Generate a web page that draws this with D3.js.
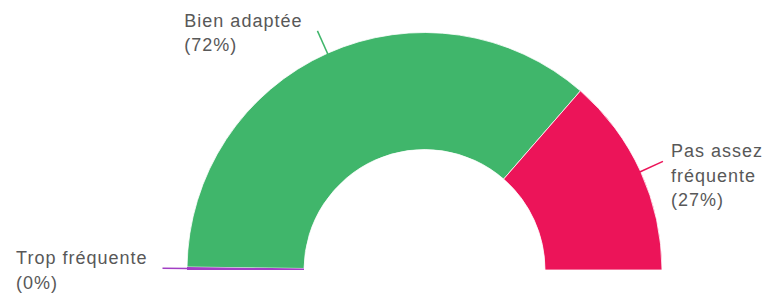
<!DOCTYPE html>
<html>
<head>
<meta charset="utf-8">
<script src="https://cdn.jsdelivr.net/npm/d3@7"></script>
<style>
  body { margin: 0; background: #fff; }
  svg text { font-family: "Liberation Sans", Arial, sans-serif; letter-spacing: 1px; }
</style>
</head>
<body>
<div class="vis-gauge"></div>
<script>
// data
const categories = ["Trop fréquente", "Bien adaptée", "Pas assez fréquente"];
const values = [0.4, 72.4, 27.2];
const pctLabels = ["(0%)", "(72%)", "(27%)"];
const colors = ["#a23fc4", "#40b66b", "#ec1459"];

const width = 774, height = 297;
const cx = 424.5, cy = 270;
const outerR = 237.5, innerR = 120.5;
const leaderR = 262;
const fontSize = 18;

const svg = d3.select(".vis-gauge")
  .append("svg")
  .attr("width", width)
  .attr("height", height);

const g = svg.append("g").attr("transform", "translate(" + cx + "," + cy + ")");

const pie = d3.pie()
  .sort(null)
  .value(d => d.value)
  .startAngle(-Math.PI / 2)
  .endAngle(Math.PI / 2);

const data = categories.map((c, i) => ({ name: c, value: values[i], pct: pctLabels[i], color: colors[i] }));
const arcs = pie(data);

const arc = d3.arc().innerRadius(innerR).outerRadius(outerR);

// draw big slices first, the tiny one on top
const order = arcs.slice().sort((a, b) => b.value - a.value);
g.selectAll("path.slice")
  .data(order)
  .enter()
  .append("path")
  .attr("class", "slice")
  .attr("d", arc)
  .attr("fill", d => d.data.color)
  .attr("stroke", d => d.value < 1 ? "none" : "#fff")
  .attr("stroke-width", 0.8);

const pt = (a, r) => [r * Math.sin(a), -r * Math.cos(a)];

const probe = svg.append("text").attr("font-size", fontSize);
const measure = s => { probe.text(s); return probe.node().getComputedTextLength(); };

arcs.forEach(d => {
  const mid = (d.startAngle + d.endAngle) / 2;
  const p0 = pt(mid, outerR - 1);
  const p1 = pt(mid, leaderR);
  g.append("line")
    .attr("x1", p0[0]).attr("y1", p0[1])
    .attr("x2", p1[0]).attr("y2", p1[1])
    .attr("stroke", d.data.color)
    .attr("stroke-width", 1.5);

  const right = p1[0] > 0;
  // wrap the name into the room left on that side
  const room = right ? (width - cx - p1[0] - 10) : (cx + p1[0] - 20);
  const words = d.data.name.split(" ");
  let lines = [], cur = "";
  words.forEach(w => {
    const test = cur ? cur + " " + w : w;
    if (measure(test) > room && cur) {
      lines.push(cur);
      cur = w;
    } else {
      cur = test;
    }
  });
  lines.push(cur);
  lines.push(d.data.pct);

  const blockW = d3.max(lines, measure);
  const tx = right ? p1[0] + 8 : p1[0] - 15 - blockW;
  const ty = p1[1] - 4;

  const text = g.append("text")
    .attr("x", tx)
    .attr("y", ty)
    .attr("font-size", fontSize)
    .attr("fill", "#585858");

  lines.forEach((l, i) => {
    text.append("tspan")
      .attr("x", tx)
      .attr("dy", i === 0 ? 0 : 24.5)
      .text(l);
  });
});
probe.remove();
</script>
</body>
</html>
